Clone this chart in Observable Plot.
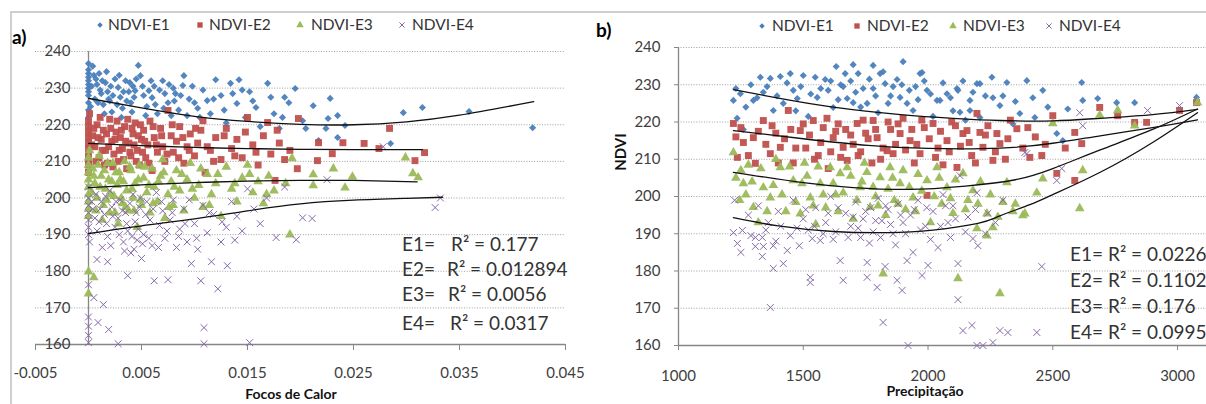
<!DOCTYPE html>
<html><head><meta charset="utf-8">
<script src="https://cdn.jsdelivr.net/npm/d3@7"></script>
<script src="https://cdn.jsdelivr.net/npm/@observablehq/plot@0.6"></script>
<style>
html,body{margin:0;padding:0;background:#fff;}
#wrap{position:relative;width:1206px;height:404px;overflow:hidden;background:#fff;font-family:Lato,"Open Sans",sans-serif;color:#404040;}
#wrap svg{overflow:visible;}
.abs{position:absolute;white-space:nowrap;line-height:1;}
.lg{position:absolute;font-size:15.5px;color:#333;line-height:1;white-space:nowrap;transform:translateY(-50%);}
.r2{position:absolute;font-size:19px;color:#333;line-height:1;white-space:nowrap;transform:translateY(-50%);}
</style></head>
<body>
<div id="wrap">
  <div class="abs" style="left:10px;top:11px;width:1196px;height:2px;background:#cfcfcf"></div>
  <div class="abs" style="left:10px;top:11px;width:2px;height:393px;background:#cfcfcf"></div>
  <div id="pa" class="abs" style="left:0;top:0"></div>
  <div id="pb" class="abs" style="left:590px;top:0"></div>
</div>
<script>
// ---------- shared ----------
const seriesNames = ["NDVI-E1", "NDVI-E2", "NDVI-E3", "NDVI-E4"];
const seriesColors = ["#4a7ebb", "#c0504d", "#9bbb59", "#8468a8"];
const seriesSymbols = ["diamond2", "square", "triangle", "times"];
const yTicks = [160, 170, 180, 190, 200, 210, 220, 230, 240];

// ---------- panel a) : Focos de Calor ----------
const xTicksA = [-0.005, 0.005, 0.015, 0.025, 0.035, 0.045];
const xTickLabelsA = ["-0.005", "0.005", "0.015", "0.025", "0.035", "0.045"];
const r2LabelsA = ["E1=", "E2=", "E3=", "E4="];
const r2ValuesA = ["R² = 0.177", "R² = 0.012894", "R² = 0.0056", "R² = 0.0317"];

const aE1 = [[0,236.7],[0,235],[0,234],[0,233],[0,232],[0,231],[0,230],[0,229],[0,228],[0,226],[0,224],[0,222],[0.0003,230.5],[0.0005,233.5],[0.0006,227],[0.0008,231],[0.001,234],[0.0012,228.5],[0.0014,225.5],[0.0016,231.5],[0.0018,229],[0.002,226.5],[0.0022,223.5],[0.0025,232.5],[0.0028,230.2],[0.003,227.5],[0.0032,224.5],[0.0035,232],[0.0038,229],[0.004,226],[0.0042,230.5],[0.0044,229.3],[0.0047,236.2],[0.0049,233.4],[0.0052,228],[0.0055,225],[0.0057,229.3],[0.006,227.4],[0.0062,230.5],[0.0065,223],[0.007,232],[0.0072,228.5],[0.0075,226],[0.0078,222.5],[0.008,230],[0.0082,228.5],[0.0085,224],[0.0089,230.7],[0.009,233.4],[0.0095,227],[0.01,226],[0.0105,222],[0.0108,229.5],[0.0112,226.6],[0.0115,223],[0.012,232.3],[0.0125,228],[0.013,220.5],[0.0134,231.3],[0.0136,228.5],[0.014,225.8],[0.0142,232.3],[0.0148,222],[0.0152,229],[0.0158,224.7],[0.0162,219.5],[0.0169,231.3],[0.0175,223],[0.018,219],[0.0185,227.5],[0.0189,226],[0.0195,229.9],[0.0202,221.1],[0.0205,219],[0.0212,225.2],[0.0217,215.7],[0.0224,219],[0.0226,221.7],[0.0228,227.2],[0.0235,222.5],[0.0235,216.5],[0.0242,219.8],[0.0285,214.9],[0.0297,223.3],[0.0315,224.7],[0.0359,223.6],[0.0419,219.2],
[0.0002,225],[0.0004,236],[0.0007,232.5],[0.0009,226],[0.0011,229.5],[0.0013,232],[0.0015,223],[0.0017,234.5],[0.0019,227],[0.0021,230.5],[0.0023,228],[0.0027,225.5],[0.0029,233.5],[0.0031,222],[0.0033,229],[0.0036,226.5],[0.0039,231.5],[0.0041,223.5],[0.0043,227.5],[0.0045,232.5],[0.0051,230.5],[0.0054,222.5],[0.0059,232],[0.0063,225.5],[0.0067,229.5],[0.0071,224.5],[0.0076,231],[0.0081,226.5],[0.0087,228],[0.0093,222.5],[0.0098,230.5],[0.0103,224.5],[0.0118,227],[0.0128,224],[0.0145,229.5],[0.0155,226.5],[0.0172,227.5],[0.0183,222]];
const aE2 = [[0,221],[0,219.5],[0,218],[0,216.5],[0,215],[0,213.5],[0,212],[0,210.5],[0,209],[0,207],[0.0004,217],[0.0006,214],[0.0008,220],[0.001,211],[0.0012,216],[0.0014,218.5],[0.0016,213],[0.0018,209.5],[0.002,221.5],[0.0022,215.5],[0.0024,212],[0.0026,218],[0.0028,210],[0.003,216.5],[0.0032,213.5],[0.0034,219.5],[0.0036,208],[0.0038,215],[0.004,211.5],[0.0042,217.5],[0.0044,220.5],[0.0046,213],[0.0048,209],[0.005,216],[0.0052,218.5],[0.0054,211],[0.0056,214.5],[0.0058,221],[0.006,207.5],[0.0062,216.5],[0.0065,212.5],[0.0068,219],[0.007,214],[0.0072,210],[0.0075,223.9],[0.0078,217],[0.008,212.5],[0.0083,215.5],[0.0086,219.5],[0.009,209.5],[0.0093,214],[0.0096,217.5],[0.01,211.5],[0.0103,215],[0.0106,218.5],[0.0108,221.1],[0.011,207],[0.0115,213],[0.012,216.5],[0.0125,210.5],[0.013,219],[0.0135,213.5],[0.014,216],[0.0145,211],[0.015,222],[0.0155,214.5],[0.016,209],[0.0165,217],[0.0169,220.6],[0.0172,212],[0.0176,204.8],[0.018,215],[0.0185,210.5],[0.019,213],[0.0197,208],[0.0198,221.7],[0.0216,210.2],[0.0217,215.1],[0.023,212.1],[0.024,215.1],[0.026,214.9],[0.0274,213.5],[0.0284,219],[0.0308,210.2],[0.0317,212.4],
[0.0001,223],[0.0003,214.5],[0.0005,219],[0.0007,210],[0.0009,216.5],[0.0011,222],[0.0013,213],[0.0015,209],[0.0017,217.5],[0.0019,214],[0.0021,219],[0.0023,208.5],[0.0025,216],[0.0027,221],[0.0029,213],[0.0031,218.5],[0.0033,210.5],[0.0035,215.5],[0.0037,221.5],[0.0039,212.5],[0.0041,219],[0.0043,214.5],[0.0045,210],[0.0047,217],[0.0049,220],[0.0051,212.5],[0.0053,215.5],[0.0057,209.5],[0.0061,219.5],[0.0064,214.5],[0.0069,217],[0.0074,212],[0.0079,220],[0.0085,211],[0.0089,216.5],[0.0095,213],[0.0101,219],[0.0112,214],[0.0118,210],[0.0128,217],[0.0138,211.5],[0.0148,218],[0.0158,212.5],[0.0178,218.5]];
const aE3 = [[0,211],[0,209],[0,207],[0,205],[0,203],[0,201],[0,199],[0,197],[0,195],[0,179.9],[0,173.9],[0.0005,178.3],[0.0004,208],[0.0006,204],[0.0008,200],[0.001,211.5],[0.0012,206],[0.0014,198],[0.0016,202.5],[0.0018,209.5],[0.002,196],[0.0022,204.5],[0.0024,200.5],[0.0026,207],[0.0028,193],[0.003,205],[0.0032,198.5],[0.0034,210],[0.0036,202],[0.0038,196.5],[0.004,207.5],[0.0042,200],[0.0044,204],[0.0046,192],[0.0048,209],[0.005,198],[0.0052,205.5],[0.0055,201.5],[0.0058,196],[0.006,208],[0.0062,203],[0.0065,199],[0.0068,206],[0.007,210.5],[0.0072,194.5],[0.0075,201],[0.0078,204.5],[0.008,198],[0.0083,207.5],[0.0086,202],[0.009,196.5],[0.0093,205],[0.0096,209.5],[0.01,200],[0.0104,203.5],[0.0108,197.5],[0.0112,206.5],[0.0116,201],[0.012,204],[0.0125,195],[0.013,208.5],[0.0135,202.5],[0.014,199],[0.0145,205.5],[0.015,209],[0.0155,201.5],[0.016,204.5],[0.0165,198.5],[0.017,206],[0.0175,202],[0.0186,204],[0.019,190],[0.0192,210.8],[0.0212,206.4],[0.0212,203.4],[0.0231,208],[0.0242,202.8],[0.0249,205.8],[0.0299,211],[0.0306,206.7],[0.0311,205.6],
[0.0001,213],[0.0003,201.5],[0.0005,206],[0.0007,196.5],[0.0009,209],[0.0011,203],[0.0013,194],[0.0015,207.5],[0.0017,199.5],[0.0019,205],[0.0021,201],[0.0023,209.5],[0.0025,196],[0.0027,203.5],[0.0029,207],[0.0031,200],[0.0033,204.5],[0.0035,197.5],[0.0039,208.5],[0.0041,202.5],[0.0043,196.5],[0.0047,205],[0.0049,199.5],[0.0053,208.5],[0.0057,203.5],[0.0061,198.5],[0.0066,204.5],[0.0071,207],[0.0076,197.5],[0.0081,203],[0.0088,206.5],[0.0098,202.5],[0.0106,208],[0.0114,198],[0.0122,206.5],[0.0138,204],[0.0152,206.5],[0.0168,201]];
const aE4 = [[0,203],[0,200],[0,198],[0,196],[0,194],[0,192],[0,190],[0,176.3],[0,167.5],[0,165],[0,162.5],[0,160.5],[0.0005,172.8],[0.0008,183.2],[0.0009,166],[0.0014,170.9],[0.0018,182.6],[0.0019,164.1],[0.0028,160.2],[0.0004,197],[0.0007,201],[0.001,193.5],[0.0012,199],[0.0015,195.5],[0.0018,189.5],[0.002,202],[0.0022,197.5],[0.0025,192],[0.0028,194.5],[0.003,199.5],[0.0033,188],[0.0035,196],[0.0037,191],[0.0037,178.8],[0.004,185],[0.0042,201],[0.0044,193.5],[0.0046,188.5],[0.0048,197.5],[0.005,183.5],[0.0052,190],[0.0055,199],[0.0058,194],[0.006,187],[0.0062,177.4],[0.0064,201.5],[0.0067,192.5],[0.007,196.5],[0.0072,189],[0.0075,177.7],[0.0077,194],[0.008,199.5],[0.0083,186.5],[0.0086,191.5],[0.009,197],[0.0093,188],[0.0097,182.1],[0.01,193],[0.0103,186],[0.0106,177.4],[0.0108,198],[0.0109,164.6],[0.0109,160.2],[0.0112,190.5],[0.0116,182.6],[0.0118,195.5],[0.0122,175.2],[0.0125,188],[0.013,192],[0.0131,181.5],[0.0135,199],[0.014,195],[0.0145,191],[0.015,202.5],[0.0152,160.5],[0.0156,197],[0.0162,193],[0.0168,200],[0.0177,189.2],[0.0185,203],[0.0196,188.6],[0.0202,194.6],[0.0211,194.4],[0.0225,205],[0.0278,214],[0.0327,197.4],[0.0332,200],
[0.0001,188],[0.0003,199],[0.0006,194.5],[0.0008,191],[0.0011,197],[0.0013,186.5],[0.0016,200.5],[0.0017,193],[0.0021,187],[0.0023,195],[0.0026,199],[0.0029,190],[0.0032,196.5],[0.0034,185.5],[0.0036,193],[0.0039,198.5],[0.0041,189.5],[0.0043,186],[0.0045,196],[0.0047,191.5],[0.0049,200],[0.0051,187.5],[0.0054,195.5],[0.0057,189],[0.0061,197],[0.0066,186.5],[0.0069,199],[0.0074,191],[0.0079,196],[0.0085,189.5],[0.0091,193],[0.0095,199.5],[0.0102,189],[0.0114,196],[0.0126,193.5],[0.0138,188.5]];

// trendlines
const trendA_E1 = [[0,227.2],[0.005,224.6],[0.01,222.3],[0.015,220.9],[0.02,220.1],[0.025,220],[0.03,220.8],[0.035,222.6],[0.042,226.3]];
const trendA_E2 = [[0,214.9],[0.005,214.3],[0.01,213.8],[0.015,213.5],[0.02,213.3],[0.025,213.2],[0.0315,213.2]];
const trendA_E3 = [[0,202.8],[0.005,203.6],[0.01,204.2],[0.015,204.6],[0.02,204.8],[0.025,204.8],[0.031,204.4]];
const trendA_E4 = [[0,190.3],[0.005,192.4],[0.01,194.3],[0.015,196.5],[0.02,198.4],[0.025,199.4],[0.03,199.9],[0.0334,200.2]];

// ---------- panel b) : Precipitação ----------
const xTicksB = [1000, 1500, 2000, 2500, 3000];
const r2LabelsB = ["E1=", "E2=", "E3=", "E4="];
const r2ValuesB = ["R² = 0.0226", "R² = 0.1102", "R² = 0.176", "R² = 0.0995"];

const bE1 = [[1220,225.8],[1235,221],[1248,227.6],[1260,218],[1300,225.8],[1328,232],[1340,228],[1368,231.7],[1380,223.1],[1408,232.2],[1420,225],[1448,233],[1460,228.5],[1476,226.3],[1500,232.5],[1520,221.5],[1548,232],[1556,226.6],[1588,231.4],[1600,228.5],[1620,223.9],[1632,234.9],[1650,230],[1668,233],[1676,226.3],[1700,235.4],[1700,225.2],[1720,233],[1740,229],[1756,225],[1780,235.2],[1780,229],[1800,222.5],[1808,233],[1828,230.3],[1850,227],[1876,231.4],[1888,226.6],[1900,236.2],[1916,225],[1940,223.1],[1950,229.5],[1968,233],[1976,233.3],[1996,228.5],[2020,221.5],[2036,225.8],[2048,225.8],[2076,227.6],[2100,223],[2116,229],[2120,228.5],[2128,222.6],[2150,220.5],[2168,225.8],[2168,223.1],[2196,230.3],[2208,221.2],[2208,230.3],[2256,232],[2260,226.5],[2288,224.4],[2316,230.6],[2340,219.5],[2368,222.3],[2396,231.1],[2428,221.2],[2460,228.5],[2480,224],[2516,216.9],[2540,215],[2616,230.6],[2620,225.8],[2680,226.3],[2756,225.2],[2828,225.2],[3076,226.6],
[1230,229],[1270,224],[1290,230],[1315,226.5],[1355,229.5],[1395,227],[1435,230.5],[1470,223],[1490,229.5],[1530,227.5],[1570,229],[1610,231],[1640,226],[1660,229.5],[1690,231],[1710,228],[1730,224],[1765,231.5],[1790,227],[1820,233.5],[1840,225],[1860,229.5],[1895,230],[1925,228.5],[1960,226],[1985,231],[2010,227.5],[2060,230.5],[2090,226.5],[2140,231],[2180,228],[2230,227],[2300,227],[2350,225.5],[2420,226.5],[2560,223.5]];
const bE2 = [[1220,219.6],[1236,210.5],[1260,214.5],[1300,215.8],[1308,208.9],[1340,220.4],[1368,211.5],[1390,217],[1408,213.2],[1440,223.1],[1460,209],[1488,217.7],[1510,213],[1540,220.4],[1560,211],[1580,218.5],[1600,207.5],[1620,215.8],[1640,219.5],[1660,213.2],[1676,209.7],[1690,216.5],[1716,219.6],[1730,212],[1750,217],[1780,220.4],[1796,215.8],[1810,210],[1836,212.3],[1850,218],[1870,214],[1888,216.9],[1900,221],[1928,215],[1945,209],[1968,211.5],[1985,218.5],[1996,200.3],[2020,219.6],[2040,213],[2060,208.5],[2076,215],[2095,220],[2116,207.8],[2140,216.9],[2156,217.7],[2175,211],[2196,222.3],[2208,217.2],[2220,213.2],[2240,219],[2260,209.7],[2276,216.9],[2288,214.2],[2310,210],[2330,220.5],[2356,218.2],[2380,213],[2408,210.5],[2430,216],[2456,211],[2500,221.7],[2516,206.2],[2550,213],[2588,217.2],[2588,204.3],[2616,214.2],[2688,223.9],[2760,221.7],[2828,219.9],[2876,219.9],[3008,223.1],[3076,225.2],
[1230,216],[1250,218.5],[1280,211],[1320,217.5],[1350,214],[1375,219],[1400,209],[1425,215.5],[1450,218],[1470,213],[1500,219.5],[1525,216.5],[1545,210],[1570,214.5],[1595,221],[1610,212],[1630,217.5],[1650,210.5],[1670,218],[1700,214],[1720,211],[1740,220.5],[1760,215.5],[1775,209],[1790,218],[1820,213],[1840,220],[1860,211.5],[1880,219.5],[1910,212.5],[1935,218],[1955,214],[1975,220.5],[2005,215.5],[2030,210.5],[2050,217.5],[2085,212],[2110,219],[2130,213.5],[2165,214.5],[2190,209],[2230,216.5],[2270,212],[2320,215.5],[2400,218.5],[2470,214]];
const bE3 = [[1220,211.8],[1230,205],[1245,199],[1260,203.5],[1280,208.5],[1300,197.1],[1320,193],[1340,202.4],[1368,199.7],[1390,210],[1408,207.8],[1430,196],[1460,204.3],[1488,195.4],[1505,209],[1528,199.7],[1550,192.5],[1568,203.5],[1590,197],[1608,207.8],[1630,200.5],[1648,206.2],[1676,207.8],[1700,194],[1728,202.4],[1745,209],[1768,197.1],[1790,200],[1808,205.1],[1820,179.3],[1830,195],[1848,207.8],[1865,199],[1888,203.5],[1910,196.5],[1940,199.7],[1960,206],[1996,204.3],[2010,193],[2036,207.8],[2055,198],[2076,202.4],[2100,195.5],[2120,178],[2140,206.2],[2160,199],[2180,201.6],[2196,191.4],[2210,204],[2236,195.4],[2236,189.5],[2260,191.7],[2288,174],[2300,198.5],[2316,203.8],[2340,196],[2380,194.9],[2388,195.4],[2436,201],[2460,204.8],[2500,219.6],[2608,196.8],[2620,207],[2688,221.8],[2760,223.1],[2828,219],[3080,225.2],
[1250,207],[1270,200.5],[1295,204],[1330,207.5],[1355,196],[1380,203],[1415,200.5],[1445,208],[1470,198.5],[1495,203.5],[1515,205.5],[1540,197.5],[1560,208],[1580,200.5],[1620,203.5],[1640,196],[1660,201],[1690,205.5],[1715,199],[1735,204],[1755,206.5],[1780,202.5],[1800,197.5],[1840,202],[1858,205],[1880,198],[1900,207],[1925,202.5],[1950,196],[1975,201.5],[2025,200],[2045,205],[2090,199.5],[2110,204.5],[2150,196.5],[2200,198],[2250,200.5],[2280,194.5],[2350,198]];
const bE4 = [[1220,190.3],[1225,199],[1236,187.4],[1256,190.9],[1280,195],[1308,189],[1308,186.6],[1320,197.5],[1336,189],[1336,183.9],[1340,186.6],[1360,193],[1368,170.2],[1380,186.8],[1380,180.7],[1400,196],[1420,182],[1436,185.5],[1448,189.5],[1460,199],[1484,186.8],[1500,194],[1520,191],[1528,178.3],[1528,176.9],[1536,188.7],[1550,197],[1568,188.2],[1590,193],[1610,200],[1630,190.5],[1648,182.8],[1660,177.5],[1670,195.5],[1690,192],[1710,198.5],[1730,189],[1740,194],[1756,182.3],[1756,178.3],[1770,197],[1780,190.5],[1796,175.6],[1800,199.5],[1815,193.5],[1820,166.2],[1828,181.2],[1840,196.5],[1860,190],[1876,177.5],[1880,198],[1896,174.8],[1900,193],[1916,182.8],[1920,160],[1930,195],[1940,185],[1960,199],[1976,178.8],[1990,192],[2000,181.5],[2020,196],[2040,186.3],[2060,200.5],[2080,193],[2100,197.5],[2120,182],[2120,172.3],[2128,205.6],[2140,164],[2160,194.5],[2176,165.4],[2180,188.7],[2196,160],[2196,201],[2200,186.8],[2220,160],[2240,195.5],[2260,160.8],[2288,164],[2300,199],[2320,163.5],[2388,211.8],[2396,211.5],[2436,163.5],[2456,181.2],[2516,204.3],[2536,207.5],[2608,222.5],[2620,219],[2880,223.1],[3008,224.4],
[1250,185],[1290,189.5],[1350,191],[1390,188],[1410,192],[1475,191.5],[1510,196.5],[1545,192],[1580,190],[1600,195.5],[1620,188.5],[1640,197],[1680,189],[1700,194.5],[1720,191.5],[1750,196],[1765,187.5],[1790,193.5],[1810,189],[1830,197.5],[1850,192.5],[1870,187],[1890,195],[1910,190],[1945,196.5],[1970,191],[1995,197],[2010,188.5],[2050,192],[2070,197.5],[2090,189],[2110,194],[2150,190.5],[2190,196.5],[2230,190],[2270,193]];

const trendB_E1 = [[1220,228.7],[1400,226.4],[1620,224],[1890,222],[2100,221],[2290,220.4],[2500,220.3],[2690,221],[2900,222],[3080,223.4]];
const trendB_E2 = [[1220,217.7],[1500,215.5],[1760,213.7],[2000,212.9],[2290,213],[2500,214.3],[2690,216.3],[2900,218.5],[3080,220.6]];
const trendB_E3 = [[1220,206.5],[1500,203.7],[1700,202.4],[1920,201.9],[2150,202.8],[2350,204.5],[2500,207.5],[2690,212.5],[2900,218],[3080,223.5]];
const trendB_E4 = [[1220,194.3],[1400,192.1],[1620,190.6],[1836,190.3],[2020,191],[2200,192.8],[2288,194.8],[2408,197.8],[2500,200.5],[2690,206.5],[2900,214.5],[3080,222.5]];

// ---------- helpers ----------
const axisGrey = "#868686";
const gridStyle = {stroke: "#a0a0a0", strokeDasharray: "1,1.6", strokeWidth: 1};
const dotR = [3.2, 3.9, 3.6, 3.2];

function seriesMarks(sets) {
  return sets.map((s, i) => i === 3
    ? Plot.dot(s, {x: d => d[0], y: d => d[1], symbol: seriesSymbols[i], r: dotR[i], stroke: seriesColors[i], strokeWidth: 1, fill: "none"})
    : Plot.dot(s, {x: d => d[0], y: d => d[1], symbol: seriesSymbols[i], r: dotR[i], fill: seriesColors[i], stroke: "none", fillOpacity: 0.95}));
}
function trendMarks(sets) {
  return sets.map(t => Plot.line(t, {x: d => d[0], y: d => d[1], curve: "natural", stroke: "#111", strokeWidth: 1.3}));
}
const plotStyle = {fontFamily: "Lato, 'Open Sans', sans-serif", fontSize: "15px", color: "#404040", background: "transparent"};

// ---------- panel a ----------
const plotA = Plot.plot({
  width: 590, height: 404,
  marginLeft: 35, marginRight: 25, marginTop: 51, marginBottom: 60,
  x: {domain: [-0.005, 0.045]},
  y: {domain: [160, 240], axis: null},
  style: plotStyle,
  marks: [
    Plot.ruleY(yTicks.filter(d => d > 160), gridStyle),
    Plot.ruleY([160], {stroke: axisGrey, strokeWidth: 1.3}),
    Plot.ruleX([0], {stroke: axisGrey, strokeWidth: 1.3}),
    Plot.axisX({ticks: xTicksA, tickFormat: d => xTickLabelsA[xTicksA.indexOf(d)], tickSize: 6, tickPadding: 17, fontSize: 15, stroke: axisGrey, label: null}),
    Plot.text(yTicks, {x: 0, y: d => d, text: d => String(d), dx: -18, textAnchor: "end", fontSize: 15, fill: "#404040"}),
    ...seriesMarks([aE1, aE2, aE3, aE4]),
    ...trendMarks([trendA_E1, trendA_E2, trendA_E3, trendA_E4])
  ]
});
document.getElementById("pa").appendChild(plotA);

// ---------- panel b ----------
const plotB = Plot.plot({
  width: 616, height: 404,
  marginLeft: 88, marginRight: 0, marginTop: 47, marginBottom: 59,
  x: {domain: [1000, 3116]},
  y: {domain: [160, 240]},
  style: plotStyle,
  marks: [
    Plot.ruleY(yTicks.filter(d => d > 160), gridStyle),
    Plot.ruleY([160], {stroke: axisGrey, strokeWidth: 1.3}),
    Plot.ruleX([1000], {stroke: axisGrey, strokeWidth: 1.3}),
    Plot.axisX({ticks: xTicksB, tickFormat: d => String(d), tickSize: 5, tickPadding: 20, fontSize: 15, stroke: axisGrey, label: null}),
    Plot.axisY({ticks: yTicks, tickFormat: d => String(d), tickSize: 4, tickPadding: 14, fontSize: 15, stroke: axisGrey, label: null}),
    ...seriesMarks([bE1, bE2, bE3, bE4]),
    ...trendMarks([trendB_E1, trendB_E2, trendB_E3, trendB_E4])
  ]
});
document.getElementById("pb").appendChild(plotB);

// ---------- text overlays ----------
const wrap = document.getElementById("wrap");
function addText(txt, x, y, cls, extra) {
  const s = document.createElement("div");
  s.className = cls; s.textContent = txt;
  s.style.left = x + "px"; s.style.top = y + "px";
  if (extra) Object.assign(s.style, extra);
  wrap.appendChild(s);
  return s;
}
function legendMarker(i, cx, cy) {
  const ns = "http://www.w3.org/2000/svg";
  const svg = document.createElementNS(ns, "svg");
  svg.setAttribute("width", 12); svg.setAttribute("height", 12);
  svg.style.position = "absolute"; svg.style.left = (cx - 6) + "px"; svg.style.top = (cy - 6) + "px";
  const p = document.createElementNS(ns, "path");
  const sym = {diamond2: d3.symbolDiamond2, square: d3.symbolSquare, triangle: d3.symbolTriangle, times: d3.symbolTimes}[seriesSymbols[i]];
  p.setAttribute("d", d3.symbol(sym, Math.PI * dotR[i] * dotR[i] * 0.6)());
  p.setAttribute("transform", "translate(6,6)");
  if (i === 3) { p.setAttribute("fill", "none"); p.setAttribute("stroke", seriesColors[i]); }
  else p.setAttribute("fill", seriesColors[i]);
  svg.appendChild(p);
  wrap.appendChild(svg);
}
const legendA = [[100,108],[200,209],[300,311],[402,412]];
const legendB = [[762,772],[857,867],[953,963],[1049,1059]];
legendA.forEach(([m, t], i) => { legendMarker(i, m, 25); addText(seriesNames[i], t, 25, "lg"); });
legendB.forEach(([m, t], i) => { legendMarker(i, m, 26); addText(seriesNames[i], t, 26, "lg"); });

addText("a)", 12, 27, "abs", {fontSize: "19px", fontWeight: "bold", color: "#000"});
addText("b)", 596, 20, "abs", {fontSize: "19px", fontWeight: "bold", color: "#000"});
addText("Focos de Calor", 291, 394, "abs", {fontSize: "14px", fontWeight: "bold", color: "#111", transform: "translate(-50%,-50%)"});
addText("Precipitação", 925, 391, "abs", {fontSize: "14px", fontWeight: "bold", color: "#111", transform: "translate(-50%,-50%)"});
addText("NDVI", 620, 152, "abs", {fontSize: "15px", fontWeight: "bold", color: "#111", transform: "translate(-50%,-50%) rotate(-90deg)"});

const r2RowsA = [243, 268, 293, 322];
const r2ValXA = [451, 447, 448, 450];
r2RowsA.forEach((y, i) => { addText(r2LabelsA[i], 402, y, "r2"); addText(r2ValuesA[i], r2ValXA[i], y, "r2"); });
const r2RowsB = [253, 279, 305, 331];
r2RowsB.forEach((y, i) => { addText(r2LabelsB[i], 1070, y, "r2"); addText(r2ValuesB[i], 1108, y, "r2"); });
</script>
</body></html>
